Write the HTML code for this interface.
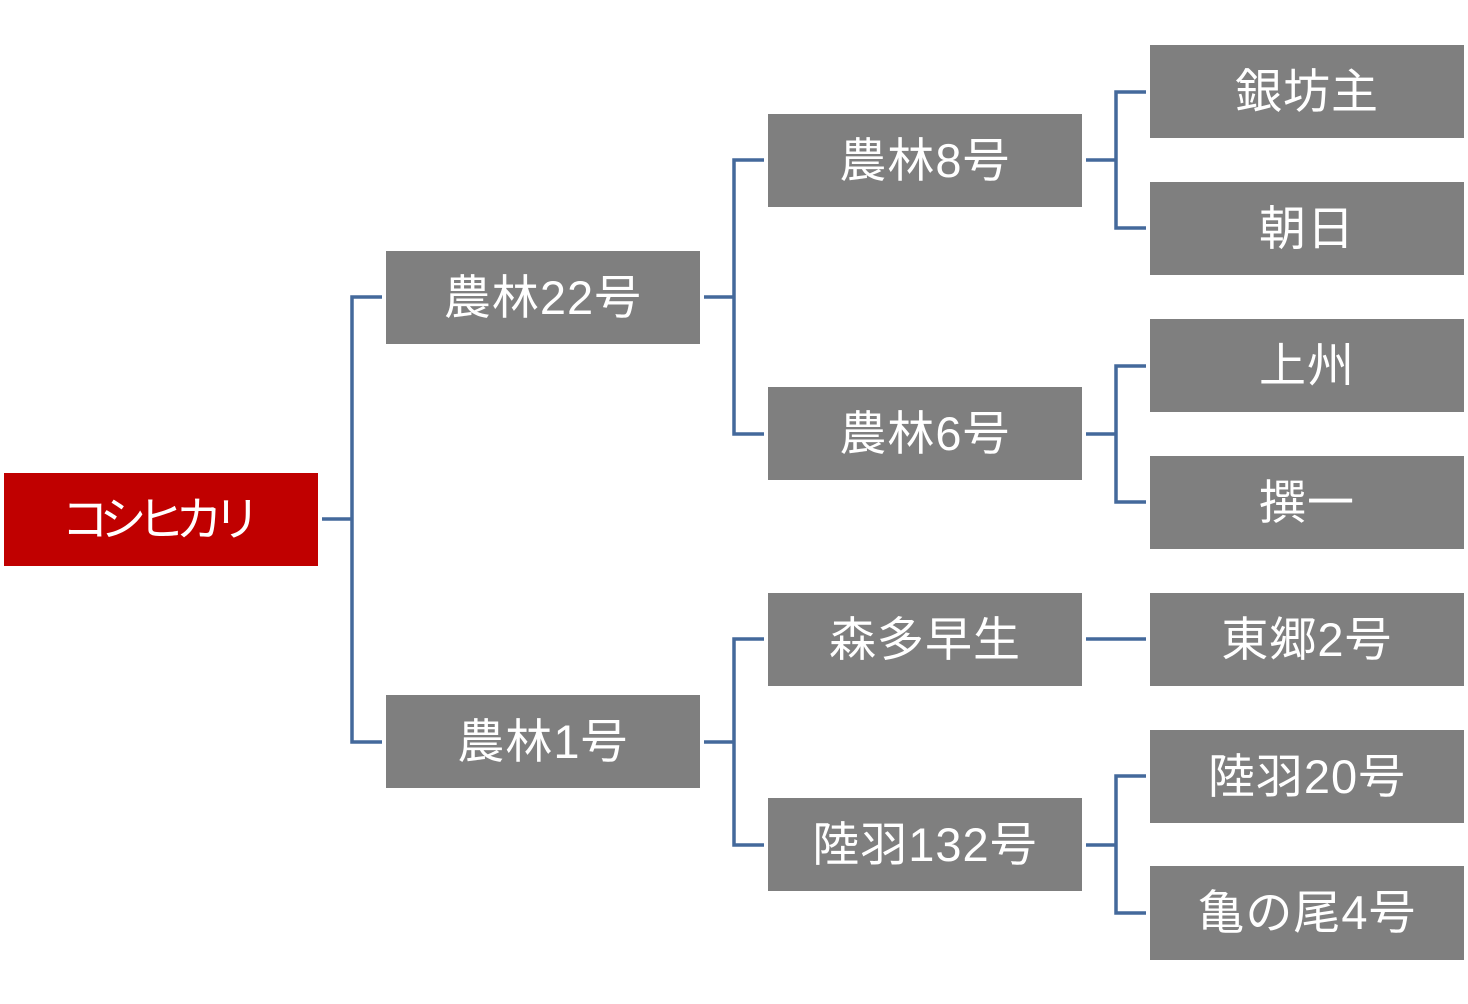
<!DOCTYPE html>
<html><head><meta charset="utf-8"><style>
body{margin:0;width:1468px;height:1004px;background:#fff;position:relative;overflow:hidden}
.b{position:absolute;width:314px;height:93px;background:#7f7f7f;color:#fff;display:flex;align-items:center;justify-content:center;font-family:"Liberation Sans","Noto Sans CJK JP",sans-serif;font-size:47px;letter-spacing:1px;box-sizing:border-box;padding-bottom:9px}
svg{position:absolute;left:0;top:0}
</style></head><body>
<svg width="1468" height="1004"><g stroke="#44699b" stroke-width="3.5" fill="none">
<path d="M322 519H352M382 297H352V742H382"/>
<path d="M704 297H734M764 160H734V434H764"/>
<path d="M704 742H734M764 639H734V845H764"/>
<path d="M1086 160H1116M1146 92H1116V228H1146"/>
<path d="M1086 434H1116M1146 366H1116V502H1146"/>
<path d="M1086 639H1146"/>
<path d="M1086 845H1116M1146 776H1116V913H1146"/>
</g></svg>
<div class="b" style="left:4px;top:473px;background:#c00000;letter-spacing:-9px;padding-right:9px">コシヒカリ</div>
<div class="b" style="left:386px;top:251px">農林22号</div>
<div class="b" style="left:386px;top:695px">農林1号</div>
<div class="b" style="left:768px;top:114px">農林8号</div>
<div class="b" style="left:768px;top:387px">農林6号</div>
<div class="b" style="left:768px;top:593px">森多早生</div>
<div class="b" style="left:768px;top:798px">陸羽132号</div>
<div class="b" style="left:1150px;top:45px">銀坊主</div>
<div class="b" style="left:1150px;top:182px">朝日</div>
<div class="b" style="left:1150px;top:319px">上州</div>
<div class="b" style="left:1150px;top:456px">撰一</div>
<div class="b" style="left:1150px;top:593px">東郷2号</div>
<div class="b" style="left:1150px;top:730px">陸羽20号</div>
<div class="b" style="left:1150px;top:866px;height:94px">亀の尾4号</div>
</body></html>
